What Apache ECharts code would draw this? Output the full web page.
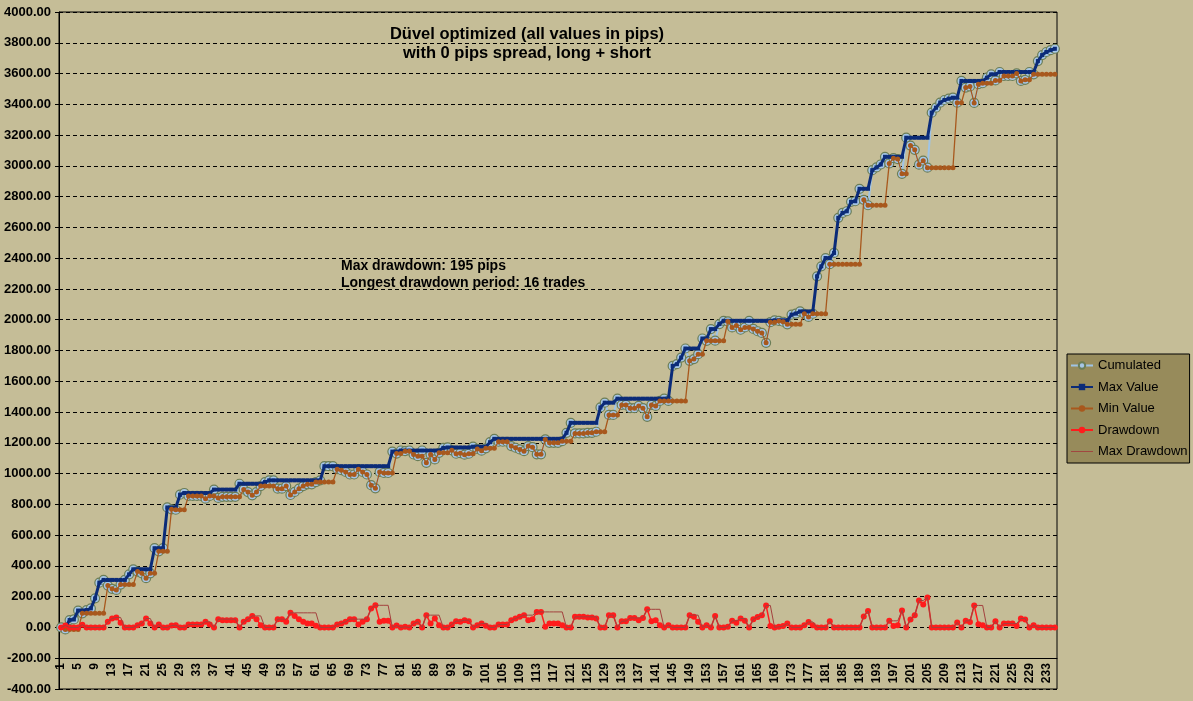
<!DOCTYPE html>
<html>
<head>
<meta charset="utf-8">
<title>Düvel optimized</title>
<script src="https://cdn.jsdelivr.net/npm/echarts@6/dist/echarts.min.js"></script>
<style>
  html, body { margin: 0; padding: 0; background: #c5bd97; }
  #chart { width: 1193px; height: 701px; }
</style>
</head>
<body>
<div id="chart"></div>
<script>
// trade numbers 1..235
const trades = [];
for (let i = 1; i <= 235; i++) trades.push(String(i));

const cumulated = [
  0, -13, 48, 52, 110, 92, 113, 124, 189, 291,
  309, 272, 251, 244, 279, 309, 345, 378, 363, 352,
  320, 352, 515, 495, 515, 780, 768, 765, 863, 874,
  855, 855, 855, 855, 837, 855, 896, 842, 849, 849,
  849, 849, 934, 897, 880, 859, 880, 919, 945, 956,
  956, 902, 902, 919, 861, 881, 902, 919, 930, 930,
  945, 956, 1048, 1048, 1048, 1029, 1022, 1011, 994, 994,
  1029, 1011, 994, 925, 904, 1011, 1004, 1004, 1143, 1130,
  1150, 1146, 1150, 1124, 1113, 1150, 1070, 1124, 1092, 1135,
  1167, 1170, 1151, 1129, 1133, 1123, 1129, 1175, 1160, 1149,
  1164, 1204, 1226, 1207, 1207, 1207, 1179, 1168, 1157, 1146,
  1179, 1172, 1125, 1125, 1222, 1200, 1200, 1200, 1211, 1265,
  1330, 1261, 1261, 1261, 1265, 1265, 1272, 1430, 1461, 1381,
  1381, 1487, 1446, 1446, 1425, 1425, 1440, 1425, 1369, 1446,
  1440, 1472, 1487, 1472, 1700, 1711, 1754, 1813, 1733, 1744,
  1776, 1878, 1863, 1939, 1864, 1972, 1993, 1989, 1950, 1963,
  1935, 1950, 1993, 1940, 1925, 1914, 1850, 1984, 1996, 1992,
  1987, 1970, 2033, 2040, 2054, 2039, 2018, 2039, 2282, 2347,
  2401, 2361, 2434, 2662, 2694, 2705, 2766, 2770, 2851, 2779,
  2744, 2972, 2990, 3009, 3059, 3016, 3050, 3044, 2948, 3183,
  3132, 3104, 3008, 3034, 2988, 3346, 3378, 3411, 3428, 3437,
  3443, 3411, 3552, 3509, 3516, 3409, 3531, 3537, 3573, 3595,
  3555, 3610, 3584, 3584, 3584, 3601, 3552, 3559, 3610, 3595,
  3681, 3720, 3740, 3752, 3761
];

const maxValue = [
  0, 0, 48, 52, 110, 110, 113, 124, 189, 291,
  309, 309, 309, 309, 309, 309, 345, 378, 378, 378,
  378, 378, 515, 515, 515, 780, 780, 780, 863, 874,
  874, 874, 874, 874, 874, 874, 896, 896, 896, 896,
  896, 896, 934, 934, 934, 934, 934, 934, 945, 956,
  956, 956, 956, 956, 956, 956, 956, 956, 956, 956,
  956, 956, 1048, 1048, 1048, 1048, 1048, 1048, 1048, 1048,
  1048, 1048, 1048, 1048, 1048, 1048, 1048, 1048, 1143, 1143,
  1150, 1150, 1150, 1150, 1150, 1150, 1150, 1150, 1150, 1150,
  1167, 1170, 1170, 1170, 1170, 1170, 1170, 1175, 1175, 1175,
  1175, 1204, 1226, 1226, 1226, 1226, 1226, 1226, 1226, 1226,
  1226, 1226, 1226, 1226, 1226, 1226, 1226, 1226, 1226, 1265,
  1330, 1330, 1330, 1330, 1330, 1330, 1330, 1430, 1461, 1461,
  1461, 1487, 1487, 1487, 1487, 1487, 1487, 1487, 1487, 1487,
  1487, 1487, 1487, 1487, 1700, 1711, 1754, 1813, 1813, 1813,
  1813, 1878, 1878, 1939, 1939, 1972, 1993, 1993, 1993, 1993,
  1993, 1993, 1993, 1993, 1993, 1993, 1993, 1993, 1996, 1996,
  1996, 1996, 2033, 2040, 2054, 2054, 2054, 2054, 2282, 2347,
  2401, 2401, 2434, 2662, 2694, 2705, 2766, 2770, 2851, 2851,
  2851, 2972, 2990, 3009, 3059, 3059, 3059, 3059, 3059, 3183,
  3183, 3183, 3183, 3183, 3183, 3346, 3378, 3411, 3428, 3437,
  3443, 3443, 3552, 3552, 3552, 3552, 3552, 3552, 3573, 3595,
  3595, 3610, 3610, 3610, 3610, 3610, 3610, 3610, 3610, 3610,
  3681, 3720, 3740, 3752, 3761
];

const minValue = [
  0, -13, -13, -13, -13, 92, 92, 92, 92, 92,
  92, 272, 251, 244, 279, 279, 279, 279, 363, 352,
  320, 352, 352, 495, 495, 495, 768, 765, 765, 765,
  855, 855, 855, 855, 837, 855, 855, 842, 849, 849,
  849, 849, 849, 897, 880, 859, 880, 919, 919, 919,
  919, 902, 902, 919, 861, 881, 902, 919, 930, 930,
  945, 945, 945, 945, 945, 1029, 1022, 1011, 994, 994,
  1029, 1011, 994, 925, 904, 1011, 1004, 1004, 1004, 1130,
  1130, 1146, 1146, 1124, 1113, 1113, 1070, 1124, 1092, 1135,
  1135, 1135, 1151, 1129, 1133, 1123, 1129, 1129, 1160, 1149,
  1164, 1164, 1164, 1207, 1207, 1207, 1179, 1168, 1157, 1146,
  1179, 1172, 1125, 1125, 1222, 1200, 1200, 1200, 1211, 1211,
  1211, 1261, 1261, 1261, 1265, 1265, 1272, 1272, 1272, 1381,
  1381, 1381, 1446, 1446, 1425, 1425, 1440, 1425, 1369, 1446,
  1440, 1472, 1472, 1472, 1472, 1472, 1472, 1472, 1733, 1744,
  1776, 1776, 1863, 1863, 1864, 1864, 1864, 1989, 1950, 1963,
  1935, 1950, 1950, 1940, 1925, 1914, 1850, 1984, 1984, 1992,
  1987, 1970, 1970, 1970, 1970, 2039, 2018, 2039, 2039, 2039,
  2039, 2361, 2361, 2361, 2361, 2361, 2361, 2361, 2361, 2779,
  2744, 2744, 2744, 2744, 2744, 3016, 3050, 3044, 2948, 2948,
  3132, 3104, 3008, 3034, 2988, 2988, 2988, 2988, 2988, 2988,
  2988, 3411, 3411, 3509, 3516, 3409, 3531, 3537, 3537, 3537,
  3555, 3555, 3584, 3584, 3584, 3601, 3552, 3559, 3559, 3595,
  3595, 3595, 3595, 3595, 3595
];

const drawdown = [
  0, 13, 0, 0, 0, 18, 0, 0, 0, 0,
  0, 37, 58, 65, 30, 0, 0, 0, 15, 26,
  58, 26, 0, 20, 0, 0, 12, 15, 0, 0,
  19, 19, 19, 19, 37, 19, 0, 54, 47, 47,
  47, 47, 0, 37, 54, 75, 54, 15, 0, 0,
  0, 54, 54, 37, 95, 75, 54, 37, 26, 26,
  11, 0, 0, 0, 0, 19, 26, 37, 54, 54,
  19, 37, 54, 123, 144, 37, 44, 44, 0, 13,
  0, 4, 0, 26, 37, 0, 80, 26, 58, 15,
  0, 0, 19, 41, 37, 47, 41, 0, 15, 26,
  11, 0, 0, 19, 19, 19, 47, 58, 69, 80,
  47, 54, 101, 101, 4, 26, 26, 26, 15, 0,
  0, 69, 69, 69, 65, 65, 58, 0, 0, 80,
  80, 0, 41, 41, 62, 62, 47, 62, 118, 41,
  47, 15, 0, 15, 0, 0, 0, 0, 80, 69,
  37, 0, 15, 0, 75, 0, 0, 4, 43, 30,
  58, 43, 0, 53, 68, 79, 143, 9, 0, 4,
  9, 26, 0, 0, 0, 15, 36, 15, 0, 0,
  0, 40, 0, 0, 0, 0, 0, 0, 0, 72,
  107, 0, 0, 0, 0, 43, 9, 15, 111, 0,
  51, 79, 175, 149, 195, 0, 0, 0, 0, 0,
  0, 32, 0, 43, 36, 143, 21, 15, 0, 0,
  40, 0, 26, 26, 26, 9, 58, 51, 0, 15,
  0, 0, 0, 0, 0
];

const maxDrawdown = [
  0, 13, 0, 0, 0, 18, 0, 0, 0, 0,
  0, 37, 58, 65, 65, 0, 0, 0, 15, 26,
  58, 58, 0, 20, 0, 0, 12, 15, 0, 0,
  19, 19, 19, 19, 37, 37, 0, 54, 54, 54,
  54, 54, 0, 37, 54, 75, 75, 75, 0, 0,
  0, 54, 54, 54, 95, 95, 95, 95, 95, 95,
  95, 0, 0, 0, 0, 19, 26, 37, 54, 54,
  54, 54, 54, 123, 144, 144, 144, 144, 0, 13,
  0, 4, 0, 26, 37, 0, 80, 80, 80, 80,
  0, 0, 19, 41, 41, 47, 47, 0, 15, 26,
  26, 0, 0, 19, 19, 19, 47, 58, 69, 80,
  80, 80, 101, 101, 101, 101, 101, 101, 101, 0,
  0, 69, 69, 69, 69, 69, 69, 0, 0, 80,
  80, 0, 41, 41, 62, 62, 62, 62, 118, 118,
  118, 118, 0, 15, 0, 0, 0, 0, 80, 80,
  80, 0, 15, 0, 75, 0, 0, 4, 43, 43,
  58, 58, 0, 53, 68, 79, 143, 143, 0, 4,
  9, 26, 0, 0, 0, 15, 36, 36, 0, 0,
  0, 40, 0, 0, 0, 0, 0, 0, 0, 72,
  107, 0, 0, 0, 0, 43, 43, 43, 111, 0,
  51, 79, 175, 175, 195, 0, 0, 0, 0, 0,
  0, 32, 0, 43, 43, 143, 143, 143, 0, 0,
  40, 0, 26, 26, 26, 26, 58, 58, 0, 15,
  0, 0, 0, 0, 0
];

const titleText = "Düvel optimized (all values in pips)\nwith 0 pips spread, long + short";
const noteText = "Max drawdown: 195 pips\nLongest drawdown period: 16 trades";

const font = "'Liberation Sans', Arial, sans-serif";

const chart = echarts.init(document.getElementById("chart"));

const option = {
    animation: false,
    backgroundColor: "#c5bd97",
    textStyle: { fontFamily: font, color: "#000" },
    grid: {
        left: 59, right: 136, top: 12, bottom: 12,
        show: true, borderColor: "#000", borderWidth: 1,
        containLabel: false
    },
    legend: {
        orient: "vertical",
        left: 1067, top: 354,
        padding: [4, 2, 4, 3],
        itemWidth: 22, itemHeight: 8, itemGap: 6.5,
        backgroundColor: "#978b5b",
        borderColor: "#000", borderWidth: 1, borderRadius: 0,
        textStyle: { fontFamily: font, fontSize: 13, color: "#000", lineHeight: 15 },
        data: [
            "Cumulated", "Max Value", "Min Value", "Drawdown",
            { name: "Max Drawdown", icon: "path://M0,0H24V1H0Z" }
        ]
    },
    xAxis: {
        type: "category",
        data: trades,
        boundaryGap: true,
        position: "bottom",
        offset: -30.8,
        axisLine: { onZero: false, lineStyle: { color: "#000", width: 1 } },
        axisTick: { interval: 0, length: 5, lineStyle: { color: "#000" } },
        axisLabel: {
            interval: 3, rotate: 90, margin: 5,
            fontFamily: font, fontWeight: "bold", fontSize: 12, color: "#000"
        },
        splitLine: { show: false }
    },
    yAxis: {
        type: "value",
        min: -400, max: 4000, interval: 200,
        axisLine: { show: true, lineStyle: { color: "#000" } },
        axisTick: { show: true, length: 4, lineStyle: { color: "#000" } },
        axisLabel: {
            formatter: (v) => v.toFixed(2), margin: 8,
            fontFamily: font, fontWeight: "bold", fontSize: 13, color: "#000"
        },
        splitLine: { lineStyle: { color: "#000", width: 1, type: [4, 3] } }
    },
    graphic: [
        {
            type: "text", x: 527, y: 25,
            style: {
                text: titleText, align: "center", verticalAlign: "top",
                font: "bold 16.5px " + font, lineHeight: 19, fill: "#000"
            }
        },
        {
            type: "text", x: 341, y: 258,
            style: {
                text: noteText, verticalAlign: "top",
                font: "bold 14px " + font, lineHeight: 17, fill: "#000"
            }
        }
    ],
    series: [
        {
            name: "Cumulated", type: "line", data: cumulated,
            symbol: "circle", symbolSize: 9, showAllSymbol: true,
            lineStyle: { color: "#9fc4e6", width: 2 },
            itemStyle: { color: "#a6c6e6", borderColor: "#6b7d56", borderWidth: 1.2 },
            z: 2
        },
        {
            name: "Max Value", type: "line", data: maxValue,
            symbol: "rect", symbolSize: 4, showAllSymbol: true,
            lineStyle: { color: "#0b2b78", width: 3 },
            itemStyle: { color: "#0b2b78" },
            z: 3
        },
        {
            name: "Min Value", type: "line", data: minValue,
            symbol: "circle", symbolSize: 5, showAllSymbol: true,
            lineStyle: { color: "#a8581d", width: 1.3 },
            itemStyle: { color: "#a8581d" },
            z: 4
        },
        {
            name: "Drawdown", type: "line", data: drawdown,
            symbol: "circle", symbolSize: 6, showAllSymbol: true,
            lineStyle: { color: "#ff1c1c", width: 1.5 },
            itemStyle: { color: "#ff1c1c" },
            z: 5
        },
        {
            name: "Max Drawdown", type: "line", data: maxDrawdown,
            symbol: "none",
            lineStyle: { color: "#a3413e", width: 1 },
            itemStyle: { color: "#a3413e" },
            z: 6
        }
    ]
};

chart.setOption(option);
</script>
</body>
</html>
